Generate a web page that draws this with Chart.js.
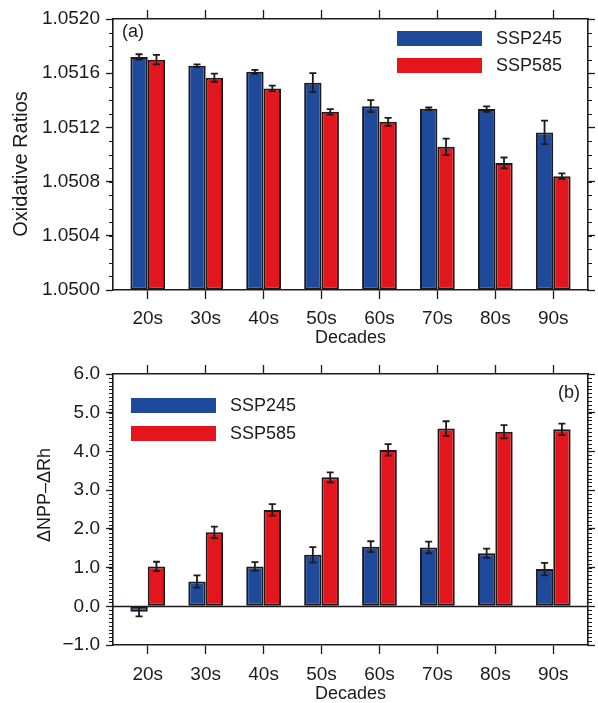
<!DOCTYPE html>
<html>
<head>
<meta charset="utf-8">
<script src="https://cdn.jsdelivr.net/npm/chart.js@4.4.1/dist/chart.umd.min.js"></script>
<style>
html, body { margin: 0; padding: 0; background: #fff; }
#wrap { position: relative; width: 598px; height: 703px; }
canvas { position: absolute; left: 0; }
#chartA { top: 0; }
#chartB { top: 355px; }
</style>
</head>
<body>
<div id="wrap">
<canvas id="chartA" width="598" height="350"></canvas>
<canvas id="chartB" width="598" height="348"></canvas>
</div>
<script>
const decades = ["20s", "30s", "40s", "50s", "60s", "70s", "80s", "90s"];
const seriesNames = ["SSP245", "SSP585"];

// (a) oxidative ratios, mean and error half-width
const orSsp245 = [1.05172, 1.051655, 1.05161, 1.05153, 1.051357, 1.051337, 1.051335, 1.051163];
const orSsp245Err = [0.00002, 0.00001, 0.000015, 0.00007, 0.000045, 0.00001, 0.00002, 0.000087];
const orSsp585 = [1.0517, 1.051567, 1.051488, 1.051315, 1.051241, 1.051057, 1.050938, 1.05084];
const orSsp585Err = [0.000035, 0.00003, 0.00002, 0.00002, 0.00003, 0.00006, 0.00004, 0.00002];
const orTicks = [1.0500, 1.0504, 1.0508, 1.0512, 1.0516, 1.0520];

// (b) dNPP - dRh
const dSsp245 = [-0.14, 0.64, 1.03, 1.33, 1.54, 1.52, 1.37, 0.96];
const dSsp245Err = [0.12, 0.16, 0.11, 0.2, 0.14, 0.15, 0.12, 0.16];
const dSsp585 = [1.03, 1.91, 2.49, 3.33, 4.04, 4.59, 4.51, 4.57];
const dSsp585Err = [0.12, 0.15, 0.15, 0.13, 0.15, 0.19, 0.17, 0.15];
const dTicks = [-1, 0, 1, 2, 3, 4, 5, 6];

const INK = "#1e1a1b";
const BLUE = "#1f4a9c";
const RED = "#e3161e";
const FONT = "'Liberation Sans', Arial, sans-serif";

// error bars, minor ticks, legend and labels drawn on top of the bars
const extras = {
    id: "extras",
    afterDatasetsDraw(chart, args, o) {
        const ctx = chart.ctx;
        const ys = chart.scales.y;
        const area = chart.chartArea;
        ctx.save();
        ctx.strokeStyle = INK;
        ctx.lineWidth = 1.5;
        if (o.zeroLine) {
            const y0 = Math.round(ys.getPixelForValue(0)) + 0.5;
            ctx.beginPath();
            ctx.moveTo(area.left, y0);
            ctx.lineTo(area.right, y0);
            ctx.stroke();
        }
        ctx.lineWidth = 1.8;
        chart.data.datasets.forEach((d, di) => {
            chart.getDatasetMeta(di).data.forEach((bar, i) => {
                const v = d.data[i].y;
                const e = d.errors[i];
                const y1 = ys.getPixelForValue(v - e);
                const y2 = ys.getPixelForValue(v + e);
                ctx.beginPath();
                ctx.moveTo(bar.x, y1);
                ctx.lineTo(bar.x, y2);
                ctx.moveTo(bar.x - 3.5, y1);
                ctx.lineTo(bar.x + 3.5, y1);
                ctx.moveTo(bar.x - 3.5, y2);
                ctx.lineTo(bar.x + 3.5, y2);
                ctx.stroke();
            });
        });
        // minor ticks, left and right
        ctx.lineWidth = 1.2;
        const n = Math.round((ys.max - ys.min) / o.minorStep);
        ctx.beginPath();
        for (let k = 0; k <= n; k++) {
            const y = Math.round(ys.getPixelForValue(ys.min + k * o.minorStep)) + 0.5;
            ctx.moveTo(area.left - 4, y);
            ctx.lineTo(area.left, y);
            ctx.moveTo(area.right, y);
            ctx.lineTo(area.right + 4, y);
        }
        ctx.stroke();
        // legend
        ctx.font = "18px " + FONT;
        ctx.fillStyle = INK;
        ctx.textBaseline = "middle";
        const lx = o.legendX(area);
        const ly = area.top + o.legendY;
        chart.data.datasets.forEach((d, di) => {
            const y = ly + di * o.legendGap;
            ctx.fillStyle = d.backgroundColor;
            ctx.fillRect(lx, y, 85, 15);
            ctx.fillStyle = INK;
            ctx.textAlign = "left";
            ctx.fillText(d.label, lx + 99, y + 8);
        });
        // panel tag
        ctx.textAlign = o.tagAlign;
        ctx.fillText(o.tag, o.tagX(area), area.top + o.tagY);
        // y title
        ctx.font = o.titleSize + "px " + FONT;
        ctx.translate(o.titleX, o.titleY);
        ctx.rotate(-Math.PI / 2);
        ctx.textAlign = "center";
        ctx.fillText(o.title, 0, 0);
        ctx.restore();
    }
};

function makeChart(id, cfg) {
    const canvas = document.getElementById(id);
    const H = canvas.height;
    const toXY = arr => arr.map((v, i) => ({ x: i, y: v }));
    const series = (label, vals, errs, color) => {
        const d = {
            label: label,
            data: toXY(vals),
            errors: errs,
            backgroundColor: color,
            borderColor: INK,
            borderWidth: 2,
            borderSkipped: false,
            categoryPercentage: 0.6,
            barPercentage: 1.0,
            xAxisID: "x",
            yAxisID: "y",
        };
        if (cfg.base !== undefined) d.base = cfg.base;
        return d;
    };
    const tickFont = { family: FONT, size: 19 };
    const xTicks = s => { s.ticks = decades.map((_, i) => ({ value: i })); };
    const yTicks = s => { s.ticks = cfg.ticks.map(v => ({ value: v })); };
    const xGrid = { offset: false, drawOnChartArea: false, tickLength: 9, tickColor: INK, tickWidth: 1.3 };
    const yGrid = { offset: false, drawOnChartArea: false, tickLength: 7, tickColor: INK, tickWidth: 1.3 };
    const border = { color: INK, width: 1.6 };
    return new Chart(canvas, {
        type: "bar",
        data: {
            datasets: [
                series(seriesNames[0], cfg.a, cfg.aErr, BLUE),
                series(seriesNames[1], cfg.b, cfg.bErr, RED),
            ],
        },
        options: {
            responsive: false,
            animation: false,
            events: [],
            layout: { padding: 0 },
            plugins: {
                legend: { display: false },
                tooltip: { enabled: false },
                extras: cfg.extras,
            },
            scales: {
                x: {
                    type: "linear", axis: "x", position: "bottom", offset: false,
                    min: -0.6, max: 7.6, bounds: "data",
                    afterBuildTicks: xTicks,
                    afterFit: s => { s.height = H - 290; },
                    grid: xGrid,
                    border: border,
                    ticks: {
                        callback: v => decades[v],
                        font: tickFont, color: INK, padding: cfg.labelPad,
                        maxRotation: 0, autoSkip: false,
                    },
                    title: {
                        display: true, text: "Decades", color: INK,
                        font: { family: FONT, size: 18, lineHeight: 1 },
                        padding: { top: 0, bottom: cfg.titlePad },
                    },
                },
                xTop: {
                    type: "linear", axis: "x", position: "top", offset: false,
                    min: -0.6, max: 7.6, bounds: "data",
                    afterBuildTicks: xTicks,
                    afterFit: s => { s.height = 19; },
                    grid: xGrid,
                    border: border,
                    ticks: { display: false },
                },
                y: {
                    type: "linear", axis: "y", position: "left", offset: false,
                    min: cfg.min, max: cfg.max, bounds: "data",
                    afterBuildTicks: yTicks,
                    afterFit: s => { s.width = 113; },
                    grid: yGrid,
                    border: border,
                    ticks: { callback: cfg.fmt, font: tickFont, color: INK, padding: 6, autoSkip: false },
                },
                yRight: {
                    type: "linear", axis: "y", position: "right", offset: false,
                    min: cfg.min, max: cfg.max, bounds: "data",
                    afterBuildTicks: yTicks,
                    afterFit: s => { s.width = 10; },
                    grid: yGrid,
                    border: border,
                    ticks: { display: false },
                },
            },
        },
        plugins: [extras],
    });
}

makeChart("chartA", {
    a: orSsp245, aErr: orSsp245Err, b: orSsp585, bErr: orSsp585Err,
    min: 1.05, max: 1.052, base: 1.05, ticks: orTicks,
    fmt: v => v.toFixed(4),
    labelPad: 8, titlePad: 3,
    extras: {
        zeroLine: false, minorStep: 0.0001,
        legendX: a => a.right - 191, legendY: 12, legendGap: 27,
        tag: "(a)", tagAlign: "left", tagX: a => a.left + 9, tagY: 13,
        title: "Oxidative Ratios", titleSize: 20, titleX: 21, titleY: 164,
    },
});

makeChart("chartB", {
    a: dSsp245, aErr: dSsp245Err, b: dSsp585, bErr: dSsp585Err,
    min: -1, max: 6, ticks: dTicks,
    fmt: v => (v < 0 ? "\u2212" + Math.abs(v).toFixed(1) : v.toFixed(1)),
    labelPad: 9, titlePad: 0,
    extras: {
        zeroLine: true, minorStep: 0.1,
        legendX: a => a.left + 18, legendY: 24, legendGap: 28,
        tag: "(b)", tagAlign: "right", tagX: a => a.right - 8, tagY: 19,
        title: "\u0394NPP\u2013\u0394Rh", titleSize: 18, titleX: 45, titleY: 140,
    },
});
</script>
</body>
</html>
